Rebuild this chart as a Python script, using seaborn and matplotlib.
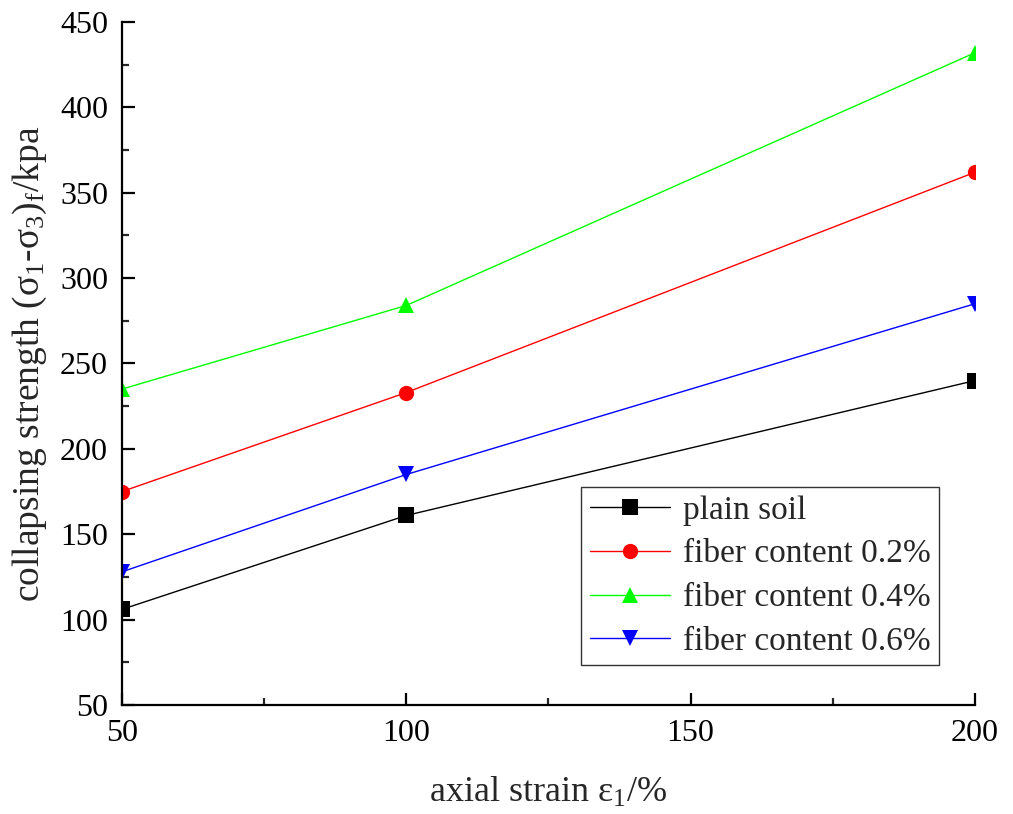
import matplotlib
matplotlib.use("Agg")
import matplotlib.pyplot as plt
from matplotlib.ticker import MultipleLocator
import pandas as pd
import seaborn as sns

# axial strain levels (%)
strain = [50, 100, 200]

# collapsing strength (kPa) for each fibre content
plain_soil = [106, 161, 240]
fiber_02 = [175, 233, 362]
fiber_04 = [235, 284, 432]
fiber_06 = [128, 185, 285]

series_names = ["plain soil", "fiber content 0.2%", "fiber content 0.4%", "fiber content 0.6%"]
series_values = [plain_soil, fiber_02, fiber_04, fiber_06]
colors = ["#000000", "#ff0000", "#00ff00", "#0000ff"]
markers = ["s", "o", "^", "v"]

rows = []
for name, vals in zip(series_names, series_values):
    for x, y in zip(strain, vals):
        rows.append({"strain": x, "strength": y, "series": name})
df = pd.DataFrame(rows)

sns.set_theme(style="ticks")
plt.rcParams["font.family"] = ["Liberation Serif", "DejaVu Serif"]
plt.rcParams["mathtext.fontset"] = "custom"
plt.rcParams["mathtext.rm"] = "Liberation Serif"
plt.rcParams["mathtext.it"] = "Liberation Serif:italic"

fig = plt.figure(figsize=(10.13, 8.14), dpi=100)
ax = fig.add_axes([0.1204, 0.1339, 0.8421, 0.8391])

for name, c, m in zip(series_names, colors, markers):
    sub = df[df["series"] == name]
    sns.lineplot(data=sub, x="strain", y="strength", ax=ax, color=c, marker=m,
                 markersize=11, markeredgewidth=0, linewidth=1.0, label=name,
                 estimator=None, sort=False)

ax.set_xlim(50, 200)
ax.set_ylim(50, 450)
ax.xaxis.set_major_locator(MultipleLocator(50))
ax.xaxis.set_minor_locator(MultipleLocator(25))
ax.yaxis.set_major_locator(MultipleLocator(50))
ax.yaxis.set_minor_locator(MultipleLocator(25))

for s in ["top", "right"]:
    ax.spines[s].set_visible(False)
for s in ["left", "bottom"]:
    ax.spines[s].set_linewidth(1.6)
    ax.spines[s].set_color("black")

ax.tick_params(which="major", direction="in", length=9, width=1.6, labelsize=23,
               colors="black", pad=10)
ax.tick_params(which="minor", direction="in", length=5, width=1.6)

ax.set_xlabel("axial strain ε$_\\mathregular{1}$/%", fontsize=26, labelpad=20)
ax.set_ylabel("collapsing strength (σ$_\\mathregular{1}$-σ$_\\mathregular{3}$)$_\\mathregular{f}$/kpa",
              fontsize=27, labelpad=8)

leg = ax.legend(loc="lower right", bbox_to_anchor=(0.958, 0.058), fontsize=24,
                frameon=True, fancybox=False, handlelength=2.4, handletextpad=0.4,
                borderpad=0.25, labelspacing=0.4, borderaxespad=0)
leg.get_frame().set_edgecolor("black")
leg.get_frame().set_linewidth(1.0)

fig.savefig("out.png", dpi=100)
